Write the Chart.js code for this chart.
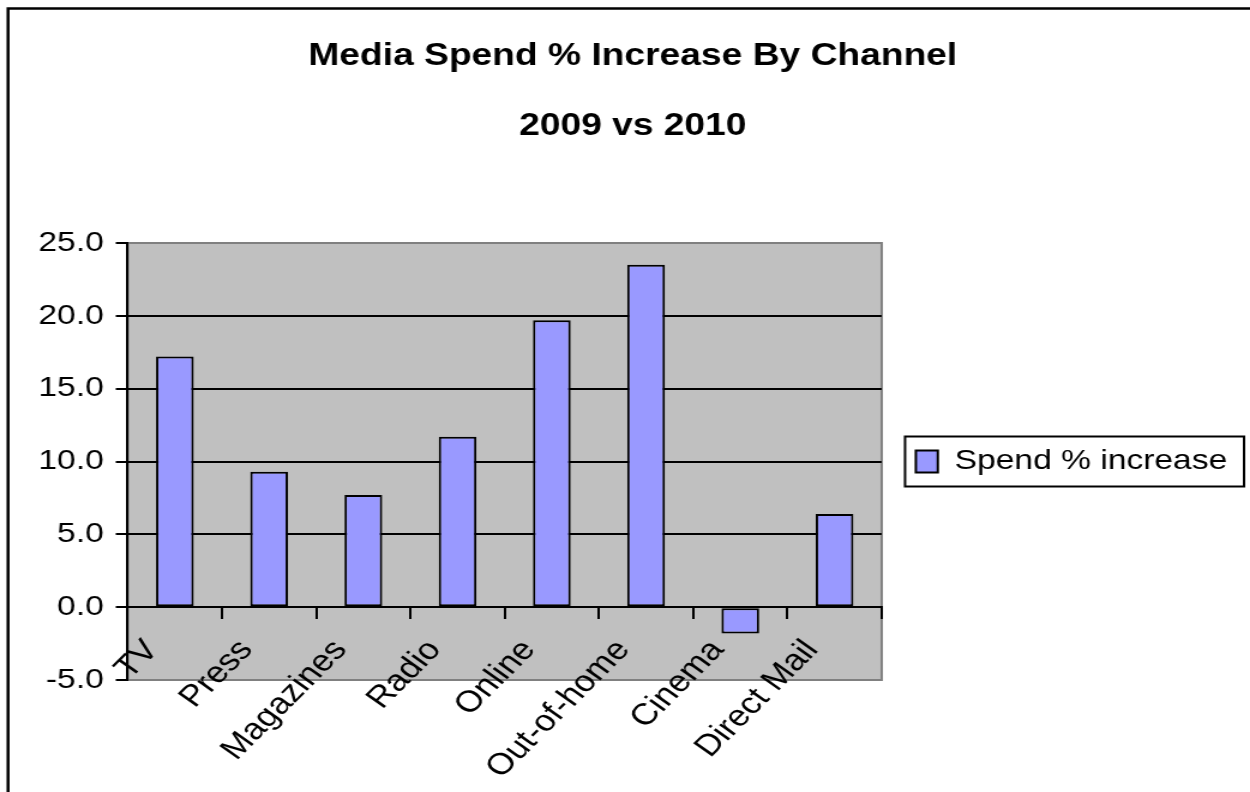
<!DOCTYPE html>
<html lang="en">
  <head>
    <meta charset="UTF-8" />
    <title>Media Spend % Increase By Channel</title>
    <script src="https://cdn.jsdelivr.net/npm/chart.js"></script>
    <style>
      html,
      body {
        margin: 0;
        padding: 0;
        background: #ffffff;
      }
      .chart-box {
        width: 1250px;
        height: 792px;
        overflow: hidden;
      }
    </style>
  </head>
  <body>
    <div class="chart-box">
      <!-- drawn on a narrower canvas and widened, so the lettering comes out wide -->
      <canvas
        id="spendChart"
        width="1042"
        height="792"
        style="width: 1250px; height: 792px"
      ></canvas>
    </div>
  </body>
  <script>
    // Channels and their % change in spend, 2009 vs 2010
    const channels = [
      "TV",
      "Press",
      "Magazines",
      "Radio",
      "Online",
      "Out-of-home",
      "Cinema",
      "Direct Mail",
    ];
    const spendIncrease = [17.2, 9.3, 7.7, 11.7, 19.7, 23.5, -1.8, 6.4];

    // Value axis range
    const axisMin = -5;
    const axisMax = 25;
    const axisStep = 5;

    Chart.defaults.font.family = "'Liberation Sans', Arial, sans-serif";
    Chart.defaults.color = "#000";

    // grey plot area with a darker grey frame
    const plotBackground = {
      id: "plotBackground",
      beforeDraw(chart) {
        const { ctx, chartArea: a } = chart;
        ctx.save();
        ctx.fillStyle = "#c0c0c0";
        ctx.fillRect(a.left, a.top, a.right - a.left, a.bottom - a.top);
        ctx.strokeStyle = "#808080";
        ctx.lineWidth = 2;
        ctx.strokeRect(a.left, a.top, a.right - a.left, a.bottom - a.top);
        ctx.restore();
      },
      afterDraw(chart) {
        const ctx = chart.ctx;
        ctx.save();
        ctx.strokeStyle = "#000";
        // outer border of the chart
        ctx.lineWidth = 2.5;
        ctx.strokeRect(6.7, 8.5, 3000, 3000);
        // box round the legend
        const hb = chart.legend.legendHitBoxes[0];
        if (hb) {
          const cy = hb.top + hb.height / 2;
          ctx.lineWidth = 2;
          ctx.strokeRect(hb.left - 9, cy - 25, hb.width + 23, 50);
        }
        ctx.restore();
      },
    };

    const ctx = document.getElementById("spendChart").getContext("2d");
    new Chart(ctx, {
      type: "bar",
      data: {
        labels: channels,
        datasets: [
          {
            label: "Spend % increase",
            data: spendIncrease,
            backgroundColor: "#9999ff",
            borderColor: "#000",
            borderWidth: 2,
            borderSkipped: false,
            barPercentage: 0.4,
            categoryPercentage: 1,
          },
        ],
      },
      options: {
        responsive: false,
        devicePixelRatio: 1,
        animation: false,
        layout: {
          padding: { left: 22, right: 9, top: 0, bottom: 112 },
        },
        plugins: {
          title: {
            display: true,
            text: "Media Spend % Increase By Channel",
            color: "#000",
            font: { size: 31, weight: "bold" },
            padding: { top: 38, bottom: 33 },
          },
          subtitle: {
            display: true,
            text: "2009 vs 2010",
            color: "#000",
            font: { size: 31, weight: "bold" },
            padding: { top: 0, bottom: 97.6 },
          },
          legend: {
            display: true,
            position: "right",
            fullSize: false,
            maxWidth: 400,
            labels: {
              boxWidth: 18.3,
              boxHeight: 22,
              padding: 28.5,
              color: "#000",
              font: { size: 28 },
            },
          },
          tooltip: { enabled: false },
        },
        scales: {
          x: {
            position: { y: 0 },
            grid: {
              drawOnChartArea: false,
              drawTicks: true,
              tickLength: 11,
              color: "#000",
              lineWidth: 2,
            },
            border: { display: true, color: "#000", width: 2 },
            ticks: {
              autoSkip: false,
              minRotation: 50,
              maxRotation: 50,
              labelOffset: -19,
              padding: 15,
              color: "#000",
              font: { size: 30 },
            },
          },
          y: {
            position: "left",
            min: axisMin,
            max: axisMax,
            grid: {
              color: (c) =>
                c.tick && (c.tick.value === axisMin || c.tick.value === axisMax)
                  ? "#808080"
                  : "#000",
              tickColor: "#000",
              lineWidth: 2,
              tickLength: 10,
            },
            border: { display: true, color: "#000", width: 2 },
            ticks: {
              stepSize: axisStep,
              padding: 10,
              color: "#000",
              font: { size: 28 },
              callback: (v) => Number(v).toFixed(1),
            },
          },
        },
      },
      plugins: [plotBackground],
    });
  </script>
</html>
